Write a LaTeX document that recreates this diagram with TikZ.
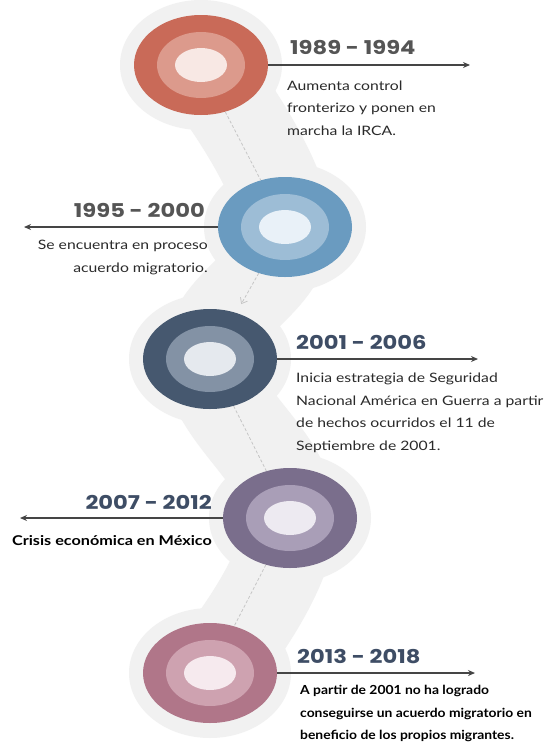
\documentclass[tikz,border=0pt]{standalone}
\usepackage{fontspec}
\setmainfont{Lato}[FakeStretch=1.21]
\newfontfamily\yearfont{Poppins}[FakeStretch=1.19]
\newfontfamily\crisisfont{Lato}[FakeStretch=1.2]
\newfontfamily\lastfont{Lato}[FakeStretch=1.11]
\usetikzlibrary{shapes.geometric,arrows.meta}
\definecolor{halo}{HTML}{F1F1F1}
\definecolor{linegray}{HTML}{454545}
\definecolor{dashgray}{HTML}{C6C6C6}
\definecolor{yeargray}{HTML}{555555}
\definecolor{yearblue}{HTML}{3E4D65}
\definecolor{txt}{HTML}{2A2A2A}
\definecolor{aO}{HTML}{C96A58}\definecolor{aM}{HTML}{DC9A8C}\definecolor{aI}{HTML}{F8E8E4}
\definecolor{bO}{HTML}{6A9BC0}\definecolor{bM}{HTML}{9DBDD6}\definecolor{bI}{HTML}{E9F1F8}
\definecolor{cO}{HTML}{46586F}\definecolor{cM}{HTML}{8392A5}\definecolor{cI}{HTML}{E5E9EE}
\definecolor{dO}{HTML}{7A6E8C}\definecolor{dM}{HTML}{A99EB7}\definecolor{dI}{HTML}{EDEAF1}
\definecolor{eO}{HTML}{B07689}\definecolor{eM}{HTML}{CEA2B0}\definecolor{eI}{HTML}{F6EAEE}
\begin{document}
\begin{tikzpicture}[x=1pt,y=-1pt,
  ring/.style={ellipse, inner sep=0pt, minimum width=134pt, minimum height=100pt},
  midring/.style={ellipse, inner sep=0pt, minimum width=88pt, minimum height=66pt},
  core/.style={ellipse, inner sep=0pt, minimum width=52pt, minimum height=34pt},
  yearlbl/.style={font=\yearfont\bfseries\fontsize{19}{19}\selectfont, inner sep=0pt},
  bodylbl/.style={font=\fontsize{13}{22.5}\selectfont, inner sep=0pt, text=txt},
  crisislbl/.style={font=\crisisfont\bfseries\fontsize{13.5}{22.5}\selectfont, inner sep=0pt, text=black},
  lastlbl/.style={font=\lastfont\bfseries\fontsize{12.5}{22.5}\selectfont, inner sep=0pt, text=black},
  timeline/.style={draw=linegray, line width=1.8pt, -{Stealth[length=7pt,width=6pt]}},
  dashlink/.style={draw=dashgray, line width=0.8pt, dash pattern=on 3pt off 2pt},
]
\useasboundingbox (0,0) rectangle (548,742);
\fill[white] (0,0) rectangle (548,742);
% background band
\draw[halo, line width=92pt, line cap=round, line join=round]
  plot[smooth, tension=0.7] coordinates {(201,65) (285,227) (210,359) (290,518) (210,673)};
\foreach \p in {(201,65),(285,227),(210,359),(290,518),(210,673)}
  \fill[halo] \p ellipse [x radius=81pt, y radius=65pt];
% circles
\node[ring, fill=aO] (c1) at (201,65) {};
\node[midring, fill=aM] (c1m) at (c1) {};
\node[core, fill=aI] (c1i) at (c1) {};
\node[ring, fill=bO] (c2) at (285,227) {};
\node[midring, fill=bM] (c2m) at (c2) {};
\node[core, fill=bI] (c2i) at (c2) {};
\node[ring, fill=cO] (c3) at (210,359) {};
\node[midring, fill=cM] (c3m) at (c3) {};
\node[core, fill=cI] (c3i) at (c3) {};
\node[ring, fill=dO] (c4) at (290,518) {};
\node[midring, fill=dM] (c4m) at (c4) {};
\node[core, fill=dI] (c4i) at (c4) {};
\node[ring, fill=eO] (c5) at (210,673) {};
\node[midring, fill=eM] (c5m) at (c5) {};
\node[core, fill=eI] (c5i) at (c5) {};
% dashed links
\draw[dashlink] (c1) -- (c2);
\draw[dashlink, -{Straight Barb[length=5pt,width=8pt]}, shorten >=10pt] (c2) -- (c3);
\draw[dashlink] (c3) -- (c4);
\draw[dashlink] (c4) -- (c5);
% timeline arrows
\coordinate (e1) at (470,65);
\coordinate (e2) at (24,227);
\coordinate (e3) at (478,359);
\coordinate (e4) at (20,518);
\coordinate (e5) at (475,673);
\draw[timeline] (c1.east) -- (e1);
\draw[timeline] (c2.west) -- (e2);
\draw[timeline] (c3.east) -- (e3);
\draw[timeline] (c4.west) -- (e4);
\draw[timeline] (c5.east) -- (e5);
% years
\node[yearlbl, text=yeargray, anchor=base west] (y1) at (290,54) {1989 - 1994};
\node[yearlbl, text=yeargray, anchor=base east] (y2) at (205,217) {1995 - 2000};
\node[yearlbl, text=yearblue, anchor=base west] (y3) at (296,349) {2001 - 2006};
\node[yearlbl, text=yearblue, anchor=base east] (y4) at (212,509) {2007 - 2012};
\node[yearlbl, text=yearblue, anchor=base west] (y5) at (297,663) {2013 - 2018};
% descriptions
\node[bodylbl, align=left, anchor=north west] (t1) at (287,80.5)
  {Aumenta control\\fronterizo y ponen en\\marcha la IRCA.};
\node[bodylbl, align=right, anchor=north east] (t2) at (208,240)
  {Se encuentra en proceso\\acuerdo migratorio.};
\node[bodylbl, align=left, anchor=north west] (t3) at (296,373)
  {Inicia estrategia de Seguridad\\Nacional América en Guerra a partir\\de hechos ocurridos el 11 de\\Septiembre de 2001.};
\node[crisislbl, align=right, anchor=north east] (t4) at (212,535)
  {Crisis económica en México};
\node[lastlbl, align=left, anchor=north west] (t5) at (300,685)
  {A partir de 2001 no ha logrado\\conseguirse un acuerdo migratorio en\\beneficio de los propios migrantes.};
\end{tikzpicture}
\end{document}
